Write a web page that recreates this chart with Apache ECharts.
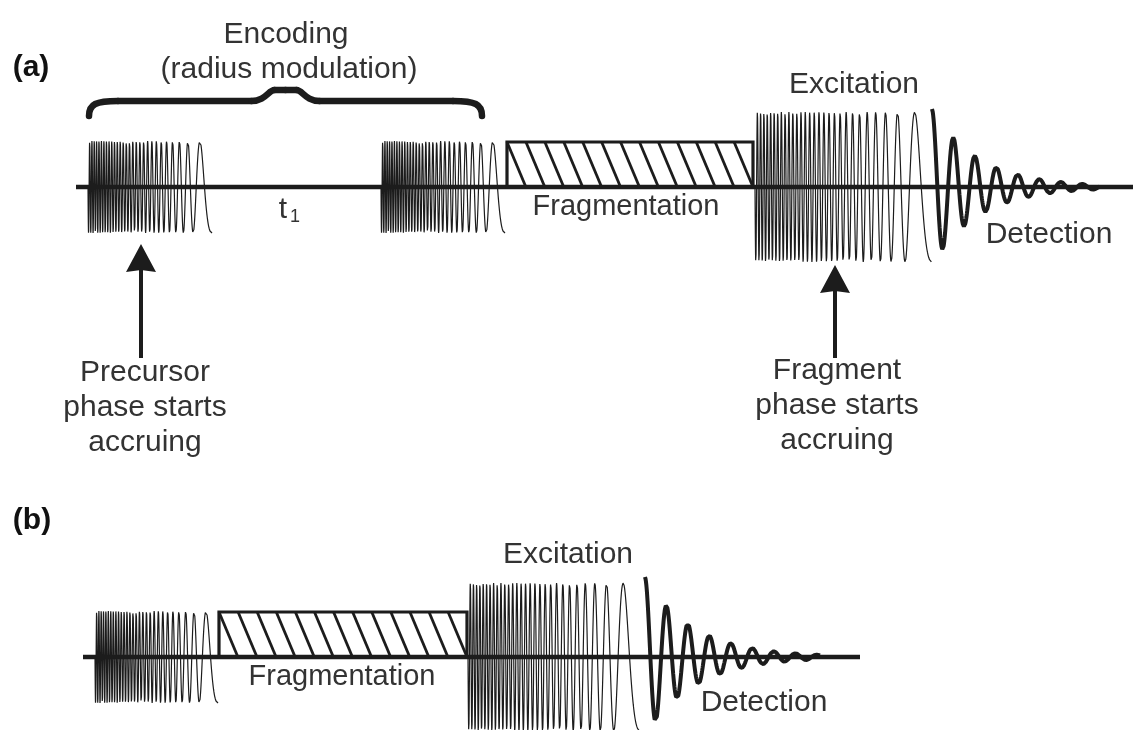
<!DOCTYPE html>
<html>
<head>
<meta charset="utf-8">
<title>Pulse sequence</title>
<script src="https://cdn.jsdelivr.net/npm/echarts@6/dist/echarts.min.js"></script>
<style>
  html, body { margin: 0; padding: 0; background: #fff; }
  #chart { width: 1135px; height: 730px; }
</style>
</head>
<body>
<div id="chart"></div>
<script>
  // both axes span the figure: x left -> right, y top -> bottom
  const panelLabels = ['(a)', '(b)'];
  const panelLabelX = [31, 32];
  const panelLabelY = [68, 521];

  const baselineY = [187, 657];
  const baselineStart = [76, 83];
  const baselineEnd = [1133, 860];

  // chirped pulses, sweeping from high to low frequency
  const chirpPanel = [0, 0, 0, 1, 1];
  const chirpStart = [88, 381, 755, 95, 468];
  const chirpEnd = [212, 505, 932, 218, 640];
  const chirpAmp = [46, 46, 75, 46, 74];
  const chirpSweep = [56, 2.5]; // cycles per pulse length at start / at end

  // hatched fragmentation periods
  const fragStart = [507, 219];
  const fragEnd = [753, 467];
  const fragTop = [142, 612];
  const hatchCount = 13;

  // detected transients
  const detStart = [932, 645];
  const detEnd = [1100, 820];
  const detAmp = [78, 80];
  const detPeriod = [21.5, 21.5];
  const detDecay = [47, 49];

  // arrows pointing at the pulses
  const arrowX = [141, 835];
  const arrowTip = [244, 265];
  const arrowTail = [358, 358];

  // brace over the encoding pulses: left, right, end y, arm y, tip y
  const brace = [88, 483, 116, 101, 90];

  const labelText = ['Encoding', '(radius modulation)', 't', '1', 'Fragmentation', 'Excitation', 'Detection',
    'Precursor\nphase starts\naccruing', 'Fragment\nphase starts\naccruing',
    'Excitation', 'Fragmentation', 'Detection'];
  const labelX = [286, 289, 283, 295, 626, 854, 1049, 145, 837, 568, 342, 764];
  const labelY = [35, 70, 210, 217, 207, 85, 235, 408, 406, 555, 677, 703];
  const labelSize = [30, 30, 30, 18, 29, 30, 30, 30, 30, 30, 29, 30];

  const ink = '#1c1c1c';
  const textInk = '#333';
  const font = "'Liberation Sans', Arial, Helvetica, sans-serif";

  const chirpData = (i) => {
    const x0 = chirpStart[i];
    const x1 = chirpEnd[i];
    const base = baselineY[chirpPanel[i]];
    const amp = chirpAmp[i];
    const f0 = chirpSweep[0];
    const f1 = chirpSweep[1];
    const phase = (u) => 2 * Math.PI * (f0 * u + (f1 - f0) * u * u / 2);
    const pEnd = phase(1);
    const n = 2600;
    const pts = [];
    for (let k = 0; k <= n; k++) {
      const u = k / n;
      pts.push([x0 + u * (x1 - x0), base + amp * Math.cos(phase(u) - pEnd)]);
    }
    return pts;
  };

  const detData = (i) => {
    const x0 = detStart[i];
    const x1 = detEnd[i];
    const base = baselineY[i];
    const n = 900;
    const pts = [];
    for (let k = 0; k <= n; k++) {
      const x = x0 + (x1 - x0) * k / n;
      const t = x - x0;
      pts.push([x, base - detAmp[i] * Math.exp(-t / detDecay[i]) * Math.cos(2 * Math.PI * t / detPeriod[i])]);
    }
    return pts;
  };

  const lineSeries = (data, width) => ({
    type: 'line',
    data,
    showSymbol: false,
    symbol: 'none',
    silent: true,
    animation: false,
    lineStyle: { color: ink, width },
    z: 2,
  });

  const series = [];

  baselineY.forEach((y, i) => {
    series.push(Object.assign(lineSeries([[baselineStart[i], y], [baselineEnd[i], y]], 4.5), { z: 3 }));
  });

  chirpStart.forEach((_, i) => {
    series.push(lineSeries(chirpData(i), 1.2));
  });

  detStart.forEach((_, i) => {
    series.push(lineSeries(detData(i), 4));
  });

  // hatched boxes
  series.push({
    type: 'custom',
    silent: true,
    animation: false,
    z: 4,
    data: fragStart.map((s, i) => [s, fragEnd[i], fragTop[i], baselineY[i]]),
    encode: { x: [0, 1], y: [2, 3] },
    renderItem: (params, api) => {
      const tl = api.coord([api.value(0), api.value(2)]);
      const br = api.coord([api.value(1), api.value(3)]);
      const h = br[1] - tl[1];
      const slant = h * 0.42;
      const step = (br[0] - tl[0] - slant) / (hatchCount - 1);
      const children = [{
        type: 'rect',
        shape: { x: tl[0], y: tl[1], width: br[0] - tl[0], height: h },
        style: { fill: 'none', stroke: ink, lineWidth: 3.2 },
      }];
      for (let k = 0; k < hatchCount; k++) {
        const xs = tl[0] + k * step;
        children.push({
          type: 'line',
          shape: { x1: xs, y1: tl[1], x2: xs + slant, y2: br[1] },
          style: { stroke: ink, lineWidth: 2.8 },
        });
      }
      return { type: 'group', children };
    },
  });

  // arrows
  series.push({
    type: 'custom',
    silent: true,
    animation: false,
    z: 4,
    data: arrowX.map((x, i) => [x, arrowTip[i], arrowTail[i]]),
    encode: { x: 0, y: [1, 2] },
    renderItem: (params, api) => {
      const tip = api.coord([api.value(0), api.value(1)]);
      const tail = api.coord([api.value(0), api.value(2)]);
      return {
        type: 'group',
        children: [
          {
            type: 'line',
            shape: { x1: tail[0], y1: tail[1], x2: tip[0], y2: tip[1] + 20 },
            style: { stroke: ink, lineWidth: 4 },
          },
          {
            type: 'polygon',
            shape: { points: [[tip[0], tip[1]], [tip[0] - 15, tip[1] + 28], [tip[0], tip[1] + 26], [tip[0] + 15, tip[1] + 28]] },
            style: { fill: ink },
          },
        ],
      };
    },
  });

  // curly brace
  series.push({
    type: 'custom',
    silent: true,
    animation: false,
    z: 4,
    data: [brace],
    encode: { x: [0, 1], y: [2, 3, 4] },
    renderItem: (params, api) => {
      const L = api.value(0);
      const R = api.value(1);
      const yEnd = api.value(2);
      const yArm = api.value(3);
      const yTip = api.value(4);
      const M = (L + R) / 2;
      const st = { stroke: ink, lineWidth: 6.5, fill: 'none', lineCap: 'round', lineJoin: 'round' };
      const children = [];
      [1, -1].forEach((d) => {
        const X = (v) => M + d * (v - M);
        const p = (x, y) => api.coord([X(x), y]);
        const a = p(L + 1, yEnd), b = p(L + 30, yArm), c1 = p(L + 1, yArm + 3), c2 = p(L + 8, yArm);
        children.push({ type: 'bezierCurve', shape: { x1: a[0], y1: a[1], x2: b[0], y2: b[1], cpx1: c1[0], cpy1: c1[1], cpx2: c2[0], cpy2: c2[1] }, style: st });
        const c = p(M - 34, yArm);
        children.push({ type: 'line', shape: { x1: b[0], y1: b[1], x2: c[0], y2: c[1] }, style: st });
        const t = p(M - 11, yTip), k1 = p(M - 20, yArm), k2 = p(M - 17, yTip);
        children.push({ type: 'bezierCurve', shape: { x1: c[0], y1: c[1], x2: t[0], y2: t[1], cpx1: k1[0], cpy1: k1[1], cpx2: k2[0], cpy2: k2[1] }, style: st });
        const m = p(M, yTip);
        children.push({ type: 'line', shape: { x1: t[0], y1: t[1], x2: m[0], y2: m[1] }, style: st });
      });
      return { type: 'group', children };
    },
  });

  // text labels
  series.push({
    type: 'scatter',
    silent: true,
    animation: false,
    symbolSize: 0,
    itemStyle: { opacity: 1 },
    z: 5,
    data: labelText.map((t, i) => ({
      value: [labelX[i], labelY[i]],
      label: { formatter: t, fontSize: labelSize[i], color: textInk },
    })).concat(panelLabels.map((t, i) => ({
      value: [panelLabelX[i], panelLabelY[i]],
      label: { formatter: t, fontSize: 30, fontWeight: 'bold', color: '#111' },
    }))),
    label: {
      show: true,
      position: [0, 0],
      color: textInk,
      fontFamily: font,
      lineHeight: 35,
      align: 'center',
      verticalAlign: 'middle',
    },
  });

  const chart = echarts.init(document.getElementById('chart'));
  const option = {
    backgroundColor: '#fff',
    animation: false,
    grid: { left: 0, right: 0, top: 0, bottom: 0 },
    xAxis: { type: 'value', min: 0, max: 1135, show: false },
    yAxis: { type: 'value', min: 0, max: 730, inverse: true, show: false },
    series,
  };
  chart.setOption(option);
  window.addEventListener('resize', () => chart.resize());
</script>
</body>
</html>
